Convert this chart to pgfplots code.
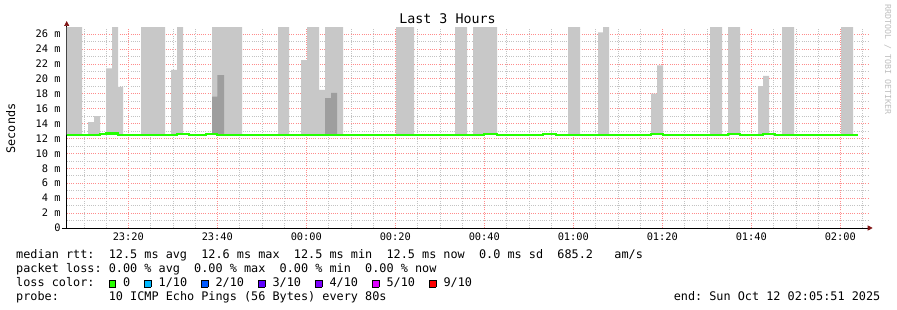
\documentclass[border=0pt]{standalone}
\usepackage{pgfplots}
\pgfplotsset{compat=1.18}
\usepackage{fontspec}
\setmainfont{DejaVu Sans Mono}
\usetikzlibrary{arrows.meta}
\definecolor{smoke}{RGB}{200,200,200}
\definecolor{smokedark}{RGB}{158,158,158}
\definecolor{mgridc}{RGB}{255,140,140}
\definecolor{gridc}{RGB}{195,195,195}
\definecolor{arrowc}{RGB}{128,20,20}
\definecolor{wmark}{RGB}{190,190,190}
\definecolor{lc0}{HTML}{26FF00}
\definecolor{lc1}{HTML}{00B8FF}
\definecolor{lc2}{HTML}{0059FF}
\definecolor{lc3}{HTML}{5E00FF}
\definecolor{lc4}{HTML}{7E00FF}
\definecolor{lc5}{HTML}{DD00FF}
\definecolor{lc9}{HTML}{FF0000}
\newcommand\lbox[1]{\makebox[0.602em][l]{\setlength\fboxsep{0pt}\setlength\fboxrule{0.5pt}\fcolorbox{black}{#1}{\rule{0pt}{6.8pt}\rule{5.8pt}{0pt}}}}
\newcommand\legfont{\fontsize{11.83}{14}\selectfont}

\pgfplotstableread{
x y
-53.85 12.5
-53.85 28
-50.40 12.5
-49.06 14.2
-47.71 15.0
-46.36 12.5
-45.01 21.4
-43.66 28
-42.31 18.9
-41.19 12.5
-37.15 28
-31.75 12.5
-30.40 21.2
-29.06 28
-27.71 12.5
-21.19 28
-14.45 12.5
-6.36 28
-3.89 12.5
-1.19 22.5
0.16 28
2.85 18.5
4.20 28
8.25 12.5
20.16 28
24.20 12.5
33.42 28
36.11 12.5
37.46 28
42.85 12.5
58.81 28
61.51 12.5
65.55 26.2
66.67 28
68.02 12.5
77.46 18.0
78.81 21.8
80.16 12.5
90.72 28
93.42 12.5
94.76 28
97.46 12.5
101.51 19.0
102.63 20.4
103.98 12.5
106.90 28
109.60 12.5
120.16 28
122.85 12.5
}\lightsmoke

\pgfplotstableread{
x y
-21.19 12.5
-21.19 17.6
-20.00 20.5
-18.49 12.5
4.20 17.4
5.55 18.1
6.90 12.5
}\darksmoke

\pgfplotstableread{
x y
-53.85 12.5
-46.36 12.6
-45.01 12.68
-42.31 12.5
-29.06 12.63
-26.36 12.5
-22.54 12.63
-20.07 12.5
39.93 12.6
42.85 12.5
53.19 12.6
56.11 12.5
77.46 12.6
80.16 12.5
94.76 12.6
97.46 12.5
102.63 12.6
105.33 12.5
123.9 12.5
}\median

\begin{document}
\frenchspacing
\begin{tikzpicture}
\useasboundingbox (0,0) rectangle (897pt,310pt);
\begin{axis}[
  at={(66.7pt,82pt)}, anchor=south west,
  scale only axis, width=801pt, height=200pt,
  xmin=-53.85, xmax=126.15, ymin=0, ymax=26.8,
  axis lines=left,
  axis line style={line width=0.7pt, black},
  x axis line style={-{Triangle[length=5pt,width=5pt,color=arrowc]}, shorten >=-5pt, shorten <=-5pt},
  y axis line style={-{Triangle[length=5pt,width=5pt,color=arrowc]}, shorten >=-7pt},
  xtick={-40,-20,0,20,40,60,80,100,120},
  xticklabels={23:20,23:40,00:00,00:20,00:40,01:00,01:20,01:40,02:00},
  minor xtick={-50,-45,...,125},
  ytick={0,2,...,26},
  yticklabels={0,2 m,4 m,6 m,8 m,10 m,12 m,14 m,16 m,18 m,20 m,22 m,24 m,26 m},
  minor ytick={1,3,...,25},
  major tick length=0pt, minor tick length=0pt,
  grid=both,
  major grid style={mgridc, line width=0.6pt, dash pattern=on 1pt off 1.2pt},
  minor grid style={gridc, line width=0.6pt, dash pattern=on 1pt off 1.2pt},
  tick label style={font=\fontsize{10.35}{12}\selectfont, inner sep=0pt},
  yticklabel style={xshift=-6pt},
  xticklabel style={yshift=-4.5pt},
  clip=true,
]
\addplot[const plot, fill=smoke, draw=none] table {\lightsmoke} -- cycle;
\addplot[const plot, fill=smokedark, draw=none] table {\darksmoke} -- cycle;
\addplot[const plot, draw=lc0, line width=2.3pt] table {\median};
\end{axis}
\node[anchor=base, inner sep=0pt, font=\fontsize{13.3}{15}\selectfont] at (447.5pt,286pt) {Last 3 Hours};
\node[rotate=90, anchor=base, inner sep=0pt, font=\legfont] at (15pt,181.5pt) {Seconds};
\node[rotate=-90, anchor=base west, inner sep=0pt, text=wmark, font=\fontsize{8.3}{10}\selectfont] at (885pt,306pt) {RRDTOOL / TOBI OETIKER};
\node[anchor=base west, inner sep=0pt, font=\legfont] at (16pt,51pt) {median~rtt:~~12.5~ms~avg~~12.6~ms~max~~12.5~ms~min~~12.5~ms~now~~0.0~ms~sd~~685.2~~~am/s};
\node[anchor=base west, inner sep=0pt, font=\legfont] at (16pt,37pt) {packet~loss:~0.00~\%~avg~~0.00~\%~max~~0.00~\%~min~~0.00~\%~now};
\node[anchor=base west, inner sep=0pt, font=\legfont] at (16pt,23pt) {loss~color:~~\lbox{lc0}~0~~\lbox{lc1}~1/10~~\lbox{lc2}~2/10~~\lbox{lc3}~3/10~~\lbox{lc4}~4/10~~\lbox{lc5}~5/10~~\lbox{lc9}~9/10};
\node[anchor=base west, inner sep=0pt, font=\legfont] at (16pt,9pt) {probe:~~~~~~~10~ICMP~Echo~Pings~(56~Bytes)~every~80s};
\node[anchor=base east, inner sep=0pt, font=\legfont] at (880.5pt,9pt) {end:~Sun~Oct~12~02:05:51~2025};
\end{tikzpicture}
\end{document}
